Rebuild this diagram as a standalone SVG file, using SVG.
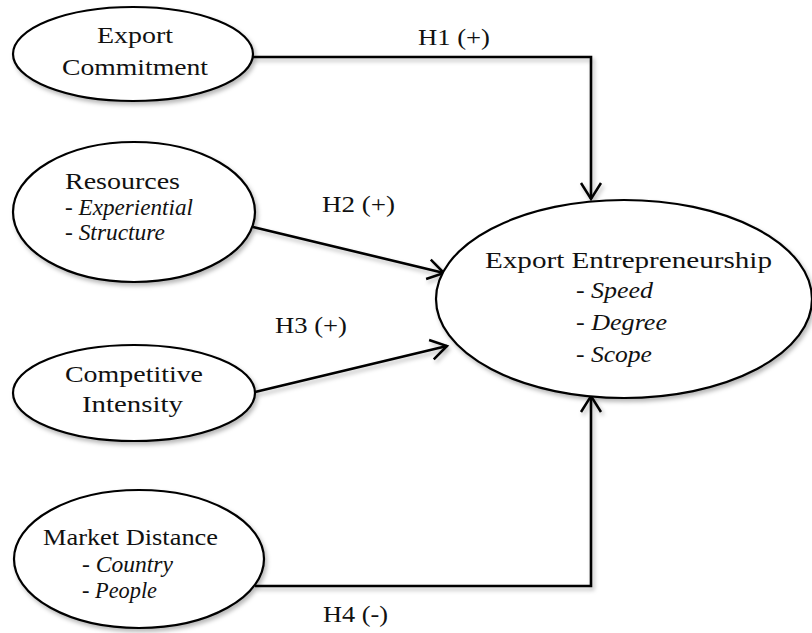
<svg xmlns="http://www.w3.org/2000/svg" width="812" height="633" viewBox="0 0 812 633">
  <style>
    .node { fill: #ffffff; stroke: #000000; stroke-width: 2.2; }
    .edge { fill: none; stroke: #000000; stroke-width: 2.6; }
    text { font-family: "Liberation Serif", "Times New Roman", serif; font-size: 24px; fill: #111111; }
    .it { font-style: italic; }
  </style>
  <defs>
    <filter id="shadow" x="-10%" y="-10%" width="125%" height="130%">
      <feDropShadow dx="2" dy="3" stdDeviation="2" flood-color="#000000" flood-opacity="0.28"/>
    </filter>
    <marker id="arrow" markerUnits="userSpaceOnUse" viewBox="-20 -12 24 24" markerWidth="24" markerHeight="24" refX="0" refY="0" orient="auto">
      <path d="M-16,-10 L0,0 L-16,10" fill="none" stroke="#000000" stroke-width="2.5" stroke-linejoin="miter"/>
    </marker>
  </defs>

  <!-- connectors -->
  <g id="connectors" filter="url(#shadow)">
    <path class="edge" d="M252,57 H591 V199" marker-end="url(#arrow)"/>
    <path class="edge" d="M253,227 L444,273" marker-end="url(#arrow)"/>
    <path class="edge" d="M255,392 L447,346" marker-end="url(#arrow)"/>
    <path class="edge" d="M255,586 H591 V396" marker-end="url(#arrow)"/>
  </g>

  <g id="export-commitment">
    <ellipse class="node" cx="133" cy="54" rx="120" ry="47" filter="url(#shadow)"/>
    <text x="97" y="43" textLength="76" lengthAdjust="spacingAndGlyphs">Export</text>
    <text x="62" y="75" textLength="146" lengthAdjust="spacingAndGlyphs">Commitment</text>
  </g>

  <g id="resources">
    <ellipse class="node" cx="134" cy="212" rx="121" ry="70" filter="url(#shadow)"/>
    <text x="65" y="189" textLength="115" lengthAdjust="spacingAndGlyphs">Resources</text>
    <text x="65" y="215" textLength="128" lengthAdjust="spacingAndGlyphs">- <tspan class="it">Experiential</tspan></text>
    <text x="65" y="240" textLength="100" lengthAdjust="spacingAndGlyphs">- <tspan class="it">Structure</tspan></text>
  </g>

  <g id="competitive-intensity">
    <ellipse class="node" cx="134" cy="393" rx="121" ry="48" filter="url(#shadow)"/>
    <text x="65" y="382" textLength="138" lengthAdjust="spacingAndGlyphs">Competitive</text>
    <text x="82" y="412" textLength="101" lengthAdjust="spacingAndGlyphs">Intensity</text>
  </g>

  <g id="market-distance">
    <ellipse class="node" cx="139" cy="559" rx="125" ry="69" filter="url(#shadow)"/>
    <text x="43" y="545" textLength="175" lengthAdjust="spacingAndGlyphs">Market Distance</text>
    <text x="82" y="572" textLength="91" lengthAdjust="spacingAndGlyphs">- <tspan class="it">Country</tspan></text>
    <text x="82" y="598" textLength="75" lengthAdjust="spacingAndGlyphs">- <tspan class="it">People</tspan></text>
  </g>

  <g id="export-entrepreneurship">
    <ellipse class="node" cx="624" cy="299" rx="188" ry="99" filter="url(#shadow)"/>
    <text x="485" y="268" textLength="287" lengthAdjust="spacingAndGlyphs">Export Entrepreneurship</text>
    <text x="576" y="298" textLength="77" lengthAdjust="spacingAndGlyphs">- <tspan class="it">Speed</tspan></text>
    <text x="576" y="330" textLength="91" lengthAdjust="spacingAndGlyphs">- <tspan class="it">Degree</tspan></text>
    <text x="576" y="362" textLength="76" lengthAdjust="spacingAndGlyphs">- <tspan class="it">Scope</tspan></text>
  </g>

  <g id="edge-labels">
    <text x="418" y="45" textLength="72" lengthAdjust="spacingAndGlyphs">H1 (+)</text>
    <text x="322" y="212" textLength="73" lengthAdjust="spacingAndGlyphs">H2 (+)</text>
    <text x="275" y="333" textLength="72" lengthAdjust="spacingAndGlyphs">H3 (+)</text>
    <text x="323" y="622" textLength="65" lengthAdjust="spacingAndGlyphs">H4 (-)</text>
  </g>
</svg>
